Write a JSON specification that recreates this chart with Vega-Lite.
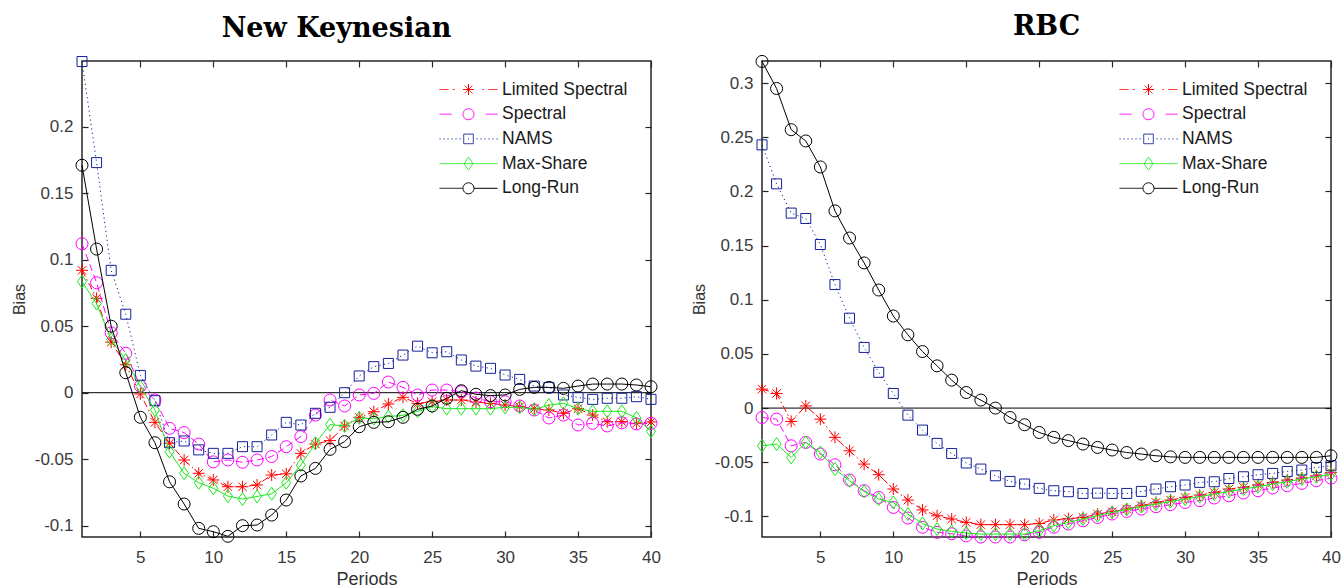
{
  "$schema": "https://vega.github.io/schema/vega-lite/v6.json",
  "padding": {"left": 10, "top": 12, "right": 0, "bottom": 0},
  "bounds": "flush",
  "spacing": 111,
  "params": [
    {"name": "symLS", "value": "M-1,0H-0.1M0.35,0H0.5M1.35,0H2.45M1.9,-0.55V0.55M1.52,-0.38L2.28,0.38M1.52,0.38L2.28,-0.38M3.3,0H3.45M3.9,0H4.8"},
    {"name": "symS", "value": "M-1,0H0.2M2.45,0A0.55,0.55 0 1,1 1.35,0A0.55,0.55 0 1,1 2.45,0M3.6,0H4.8"},
    {"name": "symN", "value": "M-1,0H-0.88M-0.6,0H-0.48M-0.2,0H-0.08M0.2,0H0.32M0.6,0H0.72M1,0H1.12M1.42,-0.48H2.38V0.48H1.42ZM1.85,0H1.95M2.7,0H2.82M3.1,0H3.22M3.5,0H3.62M3.9,0H4.02M4.3,0H4.42M4.7,0H4.82"},
    {"name": "symMS", "value": "M-1,0H4.8M1.9,-0.65L2.35,0L1.9,0.65L1.45,0Z"},
    {"name": "symLR", "value": "M-1,0H1.35M2.45,0H4.8M2.45,0A0.55,0.55 0 1,1 1.35,0A0.55,0.55 0 1,1 2.45,0"}
  ],
  "datasets": {
    "nk": [
      {"method": "Limited Spectral", "period": 1, "bias": 0.092},
      {"method": "Limited Spectral", "period": 2, "bias": 0.071},
      {"method": "Limited Spectral", "period": 3, "bias": 0.038},
      {"method": "Limited Spectral", "period": 4, "bias": 0.021},
      {"method": "Limited Spectral", "period": 5, "bias": -0.001},
      {"method": "Limited Spectral", "period": 6, "bias": -0.0223},
      {"method": "Limited Spectral", "period": 7, "bias": -0.038},
      {"method": "Limited Spectral", "period": 8, "bias": -0.0506},
      {"method": "Limited Spectral", "period": 9, "bias": -0.0606},
      {"method": "Limited Spectral", "period": 10, "bias": -0.0656},
      {"method": "Limited Spectral", "period": 11, "bias": -0.0707},
      {"method": "Limited Spectral", "period": 12, "bias": -0.0707},
      {"method": "Limited Spectral", "period": 13, "bias": -0.0694},
      {"method": "Limited Spectral", "period": 14, "bias": -0.0619},
      {"method": "Limited Spectral", "period": 15, "bias": -0.061},
      {"method": "Limited Spectral", "period": 16, "bias": -0.0456},
      {"method": "Limited Spectral", "period": 17, "bias": -0.0386},
      {"method": "Limited Spectral", "period": 18, "bias": -0.036},
      {"method": "Limited Spectral", "period": 19, "bias": -0.025},
      {"method": "Limited Spectral", "period": 20, "bias": -0.0185},
      {"method": "Limited Spectral", "period": 21, "bias": -0.0143},
      {"method": "Limited Spectral", "period": 22, "bias": -0.0085},
      {"method": "Limited Spectral", "period": 23, "bias": -0.0035},
      {"method": "Limited Spectral", "period": 24, "bias": -0.008},
      {"method": "Limited Spectral", "period": 25, "bias": -0.0068},
      {"method": "Limited Spectral", "period": 26, "bias": -0.0055},
      {"method": "Limited Spectral", "period": 27, "bias": -0.0055},
      {"method": "Limited Spectral", "period": 28, "bias": -0.007},
      {"method": "Limited Spectral", "period": 29, "bias": -0.008},
      {"method": "Limited Spectral", "period": 30, "bias": -0.0093},
      {"method": "Limited Spectral", "period": 31, "bias": -0.0105},
      {"method": "Limited Spectral", "period": 32, "bias": -0.012},
      {"method": "Limited Spectral", "period": 33, "bias": -0.013},
      {"method": "Limited Spectral", "period": 34, "bias": -0.0155},
      {"method": "Limited Spectral", "period": 35, "bias": -0.012},
      {"method": "Limited Spectral", "period": 36, "bias": -0.0168},
      {"method": "Limited Spectral", "period": 37, "bias": -0.0218},
      {"method": "Limited Spectral", "period": 38, "bias": -0.0218},
      {"method": "Limited Spectral", "period": 39, "bias": -0.023},
      {"method": "Limited Spectral", "period": 40, "bias": -0.022},
      {"method": "Spectral", "period": 1, "bias": 0.112},
      {"method": "Spectral", "period": 2, "bias": 0.0827},
      {"method": "Spectral", "period": 3, "bias": 0.045},
      {"method": "Spectral", "period": 4, "bias": 0.0296},
      {"method": "Spectral", "period": 5, "bias": 0.005},
      {"method": "Spectral", "period": 6, "bias": -0.0055},
      {"method": "Spectral", "period": 7, "bias": -0.0268},
      {"method": "Spectral", "period": 8, "bias": -0.03},
      {"method": "Spectral", "period": 9, "bias": -0.0386},
      {"method": "Spectral", "period": 10, "bias": -0.052},
      {"method": "Spectral", "period": 11, "bias": -0.0506},
      {"method": "Spectral", "period": 12, "bias": -0.0523},
      {"method": "Spectral", "period": 13, "bias": -0.0506},
      {"method": "Spectral", "period": 14, "bias": -0.048},
      {"method": "Spectral", "period": 15, "bias": -0.0406},
      {"method": "Spectral", "period": 16, "bias": -0.033},
      {"method": "Spectral", "period": 17, "bias": -0.0168},
      {"method": "Spectral", "period": 18, "bias": -0.0055},
      {"method": "Spectral", "period": 19, "bias": -0.01},
      {"method": "Spectral", "period": 20, "bias": -0.0017},
      {"method": "Spectral", "period": 21, "bias": -0.0005},
      {"method": "Spectral", "period": 22, "bias": 0.008},
      {"method": "Spectral", "period": 23, "bias": 0.004},
      {"method": "Spectral", "period": 24, "bias": -0.0017},
      {"method": "Spectral", "period": 25, "bias": 0.002},
      {"method": "Spectral", "period": 26, "bias": 0.002},
      {"method": "Spectral", "period": 27, "bias": 0.0008},
      {"method": "Spectral", "period": 28, "bias": -0.004},
      {"method": "Spectral", "period": 29, "bias": -0.0068},
      {"method": "Spectral", "period": 30, "bias": -0.0068},
      {"method": "Spectral", "period": 31, "bias": -0.01},
      {"method": "Spectral", "period": 32, "bias": -0.013},
      {"method": "Spectral", "period": 33, "bias": -0.019},
      {"method": "Spectral", "period": 34, "bias": -0.0168},
      {"method": "Spectral", "period": 35, "bias": -0.0243},
      {"method": "Spectral", "period": 36, "bias": -0.023},
      {"method": "Spectral", "period": 37, "bias": -0.025},
      {"method": "Spectral", "period": 38, "bias": -0.0226},
      {"method": "Spectral", "period": 39, "bias": -0.0235},
      {"method": "Spectral", "period": 40, "bias": -0.023},
      {"method": "NAMS", "period": 1, "bias": 0.249},
      {"method": "NAMS", "period": 2, "bias": 0.173},
      {"method": "NAMS", "period": 3, "bias": 0.092},
      {"method": "NAMS", "period": 4, "bias": 0.059},
      {"method": "NAMS", "period": 5, "bias": 0.013},
      {"method": "NAMS", "period": 6, "bias": -0.006},
      {"method": "NAMS", "period": 7, "bias": -0.0376},
      {"method": "NAMS", "period": 8, "bias": -0.0363},
      {"method": "NAMS", "period": 9, "bias": -0.043},
      {"method": "NAMS", "period": 10, "bias": -0.0456},
      {"method": "NAMS", "period": 11, "bias": -0.0456},
      {"method": "NAMS", "period": 12, "bias": -0.0406},
      {"method": "NAMS", "period": 13, "bias": -0.0406},
      {"method": "NAMS", "period": 14, "bias": -0.0318},
      {"method": "NAMS", "period": 15, "bias": -0.0223},
      {"method": "NAMS", "period": 16, "bias": -0.0243},
      {"method": "NAMS", "period": 17, "bias": -0.0155},
      {"method": "NAMS", "period": 18, "bias": -0.011},
      {"method": "NAMS", "period": 19, "bias": 0.0},
      {"method": "NAMS", "period": 20, "bias": 0.0126},
      {"method": "NAMS", "period": 21, "bias": 0.0196},
      {"method": "NAMS", "period": 22, "bias": 0.022},
      {"method": "NAMS", "period": 23, "bias": 0.0283},
      {"method": "NAMS", "period": 24, "bias": 0.035},
      {"method": "NAMS", "period": 25, "bias": 0.03},
      {"method": "NAMS", "period": 26, "bias": 0.0308},
      {"method": "NAMS", "period": 27, "bias": 0.0246},
      {"method": "NAMS", "period": 28, "bias": 0.02},
      {"method": "NAMS", "period": 29, "bias": 0.0183},
      {"method": "NAMS", "period": 30, "bias": 0.0133},
      {"method": "NAMS", "period": 31, "bias": 0.01},
      {"method": "NAMS", "period": 32, "bias": 0.005},
      {"method": "NAMS", "period": 33, "bias": 0.004},
      {"method": "NAMS", "period": 34, "bias": -0.0017},
      {"method": "NAMS", "period": 35, "bias": -0.0035},
      {"method": "NAMS", "period": 36, "bias": -0.005},
      {"method": "NAMS", "period": 37, "bias": -0.0042},
      {"method": "NAMS", "period": 38, "bias": -0.0042},
      {"method": "NAMS", "period": 39, "bias": -0.003},
      {"method": "NAMS", "period": 40, "bias": -0.005},
      {"method": "Max-Share", "period": 1, "bias": 0.0835},
      {"method": "Max-Share", "period": 2, "bias": 0.067},
      {"method": "Max-Share", "period": 3, "bias": 0.04},
      {"method": "Max-Share", "period": 4, "bias": 0.0246},
      {"method": "Max-Share", "period": 5, "bias": 0.0045},
      {"method": "Max-Share", "period": 6, "bias": -0.013},
      {"method": "Max-Share", "period": 7, "bias": -0.0443},
      {"method": "Max-Share", "period": 8, "bias": -0.0606},
      {"method": "Max-Share", "period": 9, "bias": -0.0677},
      {"method": "Max-Share", "period": 10, "bias": -0.0719},
      {"method": "Max-Share", "period": 11, "bias": -0.0777},
      {"method": "Max-Share", "period": 12, "bias": -0.08},
      {"method": "Max-Share", "period": 13, "bias": -0.078},
      {"method": "Max-Share", "period": 14, "bias": -0.076},
      {"method": "Max-Share", "period": 15, "bias": -0.0677},
      {"method": "Max-Share", "period": 16, "bias": -0.0544},
      {"method": "Max-Share", "period": 17, "bias": -0.038},
      {"method": "Max-Share", "period": 18, "bias": -0.024},
      {"method": "Max-Share", "period": 19, "bias": -0.025},
      {"method": "Max-Share", "period": 20, "bias": -0.019},
      {"method": "Max-Share", "period": 21, "bias": -0.0195},
      {"method": "Max-Share", "period": 22, "bias": -0.018},
      {"method": "Max-Share", "period": 23, "bias": -0.017},
      {"method": "Max-Share", "period": 24, "bias": -0.014},
      {"method": "Max-Share", "period": 25, "bias": -0.0105},
      {"method": "Max-Share", "period": 26, "bias": -0.012},
      {"method": "Max-Share", "period": 27, "bias": -0.012},
      {"method": "Max-Share", "period": 28, "bias": -0.012},
      {"method": "Max-Share", "period": 29, "bias": -0.012},
      {"method": "Max-Share", "period": 30, "bias": -0.011},
      {"method": "Max-Share", "period": 31, "bias": -0.011},
      {"method": "Max-Share", "period": 32, "bias": -0.0125},
      {"method": "Max-Share", "period": 33, "bias": -0.0093},
      {"method": "Max-Share", "period": 34, "bias": -0.008},
      {"method": "Max-Share", "period": 35, "bias": -0.012},
      {"method": "Max-Share", "period": 36, "bias": -0.014},
      {"method": "Max-Share", "period": 37, "bias": -0.014},
      {"method": "Max-Share", "period": 38, "bias": -0.014},
      {"method": "Max-Share", "period": 39, "bias": -0.019},
      {"method": "Max-Share", "period": 40, "bias": -0.029},
      {"method": "Long-Run", "period": 1, "bias": 0.171},
      {"method": "Long-Run", "period": 2, "bias": 0.108},
      {"method": "Long-Run", "period": 3, "bias": 0.05},
      {"method": "Long-Run", "period": 4, "bias": 0.015},
      {"method": "Long-Run", "period": 5, "bias": -0.0185},
      {"method": "Long-Run", "period": 6, "bias": -0.0376},
      {"method": "Long-Run", "period": 7, "bias": -0.067},
      {"method": "Long-Run", "period": 8, "bias": -0.0837},
      {"method": "Long-Run", "period": 9, "bias": -0.102},
      {"method": "Long-Run", "period": 10, "bias": -0.1045},
      {"method": "Long-Run", "period": 11, "bias": -0.108},
      {"method": "Long-Run", "period": 12, "bias": -0.1},
      {"method": "Long-Run", "period": 13, "bias": -0.0995},
      {"method": "Long-Run", "period": 14, "bias": -0.092},
      {"method": "Long-Run", "period": 15, "bias": -0.0807},
      {"method": "Long-Run", "period": 16, "bias": -0.0626},
      {"method": "Long-Run", "period": 17, "bias": -0.0569},
      {"method": "Long-Run", "period": 18, "bias": -0.0426},
      {"method": "Long-Run", "period": 19, "bias": -0.0368},
      {"method": "Long-Run", "period": 20, "bias": -0.0256},
      {"method": "Long-Run", "period": 21, "bias": -0.0223},
      {"method": "Long-Run", "period": 22, "bias": -0.0218},
      {"method": "Long-Run", "period": 23, "bias": -0.0185},
      {"method": "Long-Run", "period": 24, "bias": -0.0125},
      {"method": "Long-Run", "period": 25, "bias": -0.01},
      {"method": "Long-Run", "period": 26, "bias": -0.0042},
      {"method": "Long-Run", "period": 27, "bias": 0.0015},
      {"method": "Long-Run", "period": 28, "bias": -0.0012},
      {"method": "Long-Run", "period": 29, "bias": -0.0022},
      {"method": "Long-Run", "period": 30, "bias": -0.0017},
      {"method": "Long-Run", "period": 31, "bias": 0.0025},
      {"method": "Long-Run", "period": 32, "bias": 0.004},
      {"method": "Long-Run", "period": 33, "bias": 0.004},
      {"method": "Long-Run", "period": 34, "bias": 0.0033},
      {"method": "Long-Run", "period": 35, "bias": 0.005},
      {"method": "Long-Run", "period": 36, "bias": 0.0065},
      {"method": "Long-Run", "period": 37, "bias": 0.0065},
      {"method": "Long-Run", "period": 38, "bias": 0.0065},
      {"method": "Long-Run", "period": 39, "bias": 0.0058},
      {"method": "Long-Run", "period": 40, "bias": 0.0045}
    ],
    "rbc": [
      {"method": "Limited Spectral", "period": 1, "bias": 0.0175},
      {"method": "Limited Spectral", "period": 2, "bias": 0.0135},
      {"method": "Limited Spectral", "period": 3, "bias": -0.0123},
      {"method": "Limited Spectral", "period": 4, "bias": 0.002},
      {"method": "Limited Spectral", "period": 5, "bias": -0.0102},
      {"method": "Limited Spectral", "period": 6, "bias": -0.027},
      {"method": "Limited Spectral", "period": 7, "bias": -0.0394},
      {"method": "Limited Spectral", "period": 8, "bias": -0.0517},
      {"method": "Limited Spectral", "period": 9, "bias": -0.0615},
      {"method": "Limited Spectral", "period": 10, "bias": -0.0747},
      {"method": "Limited Spectral", "period": 11, "bias": -0.0849},
      {"method": "Limited Spectral", "period": 12, "bias": -0.094},
      {"method": "Limited Spectral", "period": 13, "bias": -0.0994},
      {"method": "Limited Spectral", "period": 14, "bias": -0.1024},
      {"method": "Limited Spectral", "period": 15, "bias": -0.1055},
      {"method": "Limited Spectral", "period": 16, "bias": -0.1076},
      {"method": "Limited Spectral", "period": 17, "bias": -0.1076},
      {"method": "Limited Spectral", "period": 18, "bias": -0.1076},
      {"method": "Limited Spectral", "period": 19, "bias": -0.1076},
      {"method": "Limited Spectral", "period": 20, "bias": -0.1065},
      {"method": "Limited Spectral", "period": 21, "bias": -0.1033},
      {"method": "Limited Spectral", "period": 22, "bias": -0.102},
      {"method": "Limited Spectral", "period": 23, "bias": -0.101},
      {"method": "Limited Spectral", "period": 24, "bias": -0.0978},
      {"method": "Limited Spectral", "period": 25, "bias": -0.0957},
      {"method": "Limited Spectral", "period": 26, "bias": -0.0932},
      {"method": "Limited Spectral", "period": 27, "bias": -0.0901},
      {"method": "Limited Spectral", "period": 28, "bias": -0.0871},
      {"method": "Limited Spectral", "period": 29, "bias": -0.0849},
      {"method": "Limited Spectral", "period": 30, "bias": -0.0825},
      {"method": "Limited Spectral", "period": 31, "bias": -0.0803},
      {"method": "Limited Spectral", "period": 32, "bias": -0.0779},
      {"method": "Limited Spectral", "period": 33, "bias": -0.0747},
      {"method": "Limited Spectral", "period": 34, "bias": -0.0732},
      {"method": "Limited Spectral", "period": 35, "bias": -0.0708},
      {"method": "Limited Spectral", "period": 36, "bias": -0.0686},
      {"method": "Limited Spectral", "period": 37, "bias": -0.0664},
      {"method": "Limited Spectral", "period": 38, "bias": -0.0646},
      {"method": "Limited Spectral", "period": 39, "bias": -0.0625},
      {"method": "Limited Spectral", "period": 40, "bias": -0.0594},
      {"method": "Spectral", "period": 1, "bias": -0.0087},
      {"method": "Spectral", "period": 2, "bias": -0.0102},
      {"method": "Spectral", "period": 3, "bias": -0.0348},
      {"method": "Spectral", "period": 4, "bias": -0.0317},
      {"method": "Spectral", "period": 5, "bias": -0.0424},
      {"method": "Spectral", "period": 6, "bias": -0.0523},
      {"method": "Spectral", "period": 7, "bias": -0.0664},
      {"method": "Spectral", "period": 8, "bias": -0.0763},
      {"method": "Spectral", "period": 9, "bias": -0.0825},
      {"method": "Spectral", "period": 10, "bias": -0.0917},
      {"method": "Spectral", "period": 11, "bias": -0.1015},
      {"method": "Spectral", "period": 12, "bias": -0.11},
      {"method": "Spectral", "period": 13, "bias": -0.1147},
      {"method": "Spectral", "period": 14, "bias": -0.116},
      {"method": "Spectral", "period": 15, "bias": -0.118},
      {"method": "Spectral", "period": 16, "bias": -0.119},
      {"method": "Spectral", "period": 17, "bias": -0.119},
      {"method": "Spectral", "period": 18, "bias": -0.119},
      {"method": "Spectral", "period": 19, "bias": -0.117},
      {"method": "Spectral", "period": 20, "bias": -0.1147},
      {"method": "Spectral", "period": 21, "bias": -0.11},
      {"method": "Spectral", "period": 22, "bias": -0.107},
      {"method": "Spectral", "period": 23, "bias": -0.104},
      {"method": "Spectral", "period": 24, "bias": -0.101},
      {"method": "Spectral", "period": 25, "bias": -0.0978},
      {"method": "Spectral", "period": 26, "bias": -0.0954},
      {"method": "Spectral", "period": 27, "bias": -0.0932},
      {"method": "Spectral", "period": 28, "bias": -0.091},
      {"method": "Spectral", "period": 29, "bias": -0.0892},
      {"method": "Spectral", "period": 30, "bias": -0.0871},
      {"method": "Spectral", "period": 31, "bias": -0.0855},
      {"method": "Spectral", "period": 32, "bias": -0.083},
      {"method": "Spectral", "period": 33, "bias": -0.081},
      {"method": "Spectral", "period": 34, "bias": -0.0784},
      {"method": "Spectral", "period": 35, "bias": -0.0763},
      {"method": "Spectral", "period": 36, "bias": -0.0738},
      {"method": "Spectral", "period": 37, "bias": -0.0717},
      {"method": "Spectral", "period": 38, "bias": -0.0695},
      {"method": "Spectral", "period": 39, "bias": -0.0671},
      {"method": "Spectral", "period": 40, "bias": -0.0646},
      {"method": "NAMS", "period": 1, "bias": 0.243},
      {"method": "NAMS", "period": 2, "bias": 0.207},
      {"method": "NAMS", "period": 3, "bias": 0.18},
      {"method": "NAMS", "period": 4, "bias": 0.175},
      {"method": "NAMS", "period": 5, "bias": 0.151},
      {"method": "NAMS", "period": 6, "bias": 0.114},
      {"method": "NAMS", "period": 7, "bias": 0.083},
      {"method": "NAMS", "period": 8, "bias": 0.056},
      {"method": "NAMS", "period": 9, "bias": 0.033},
      {"method": "NAMS", "period": 10, "bias": 0.0135},
      {"method": "NAMS", "period": 11, "bias": -0.0065},
      {"method": "NAMS", "period": 12, "bias": -0.0203},
      {"method": "NAMS", "period": 13, "bias": -0.0326},
      {"method": "NAMS", "period": 14, "bias": -0.0419},
      {"method": "NAMS", "period": 15, "bias": -0.0507},
      {"method": "NAMS", "period": 16, "bias": -0.0563},
      {"method": "NAMS", "period": 17, "bias": -0.0625},
      {"method": "NAMS", "period": 18, "bias": -0.0677},
      {"method": "NAMS", "period": 19, "bias": -0.0701},
      {"method": "NAMS", "period": 20, "bias": -0.0741},
      {"method": "NAMS", "period": 21, "bias": -0.0763},
      {"method": "NAMS", "period": 22, "bias": -0.0772},
      {"method": "NAMS", "period": 23, "bias": -0.0788},
      {"method": "NAMS", "period": 24, "bias": -0.0785},
      {"method": "NAMS", "period": 25, "bias": -0.0788},
      {"method": "NAMS", "period": 26, "bias": -0.0788},
      {"method": "NAMS", "period": 27, "bias": -0.0769},
      {"method": "NAMS", "period": 28, "bias": -0.0747},
      {"method": "NAMS", "period": 29, "bias": -0.0726},
      {"method": "NAMS", "period": 30, "bias": -0.071},
      {"method": "NAMS", "period": 31, "bias": -0.0686},
      {"method": "NAMS", "period": 32, "bias": -0.068},
      {"method": "NAMS", "period": 33, "bias": -0.065},
      {"method": "NAMS", "period": 34, "bias": -0.0634},
      {"method": "NAMS", "period": 35, "bias": -0.0615},
      {"method": "NAMS", "period": 36, "bias": -0.0603},
      {"method": "NAMS", "period": 37, "bias": -0.0585},
      {"method": "NAMS", "period": 38, "bias": -0.0572},
      {"method": "NAMS", "period": 39, "bias": -0.0548},
      {"method": "NAMS", "period": 40, "bias": -0.0532},
      {"method": "Max-Share", "period": 1, "bias": -0.0348},
      {"method": "Max-Share", "period": 2, "bias": -0.0332},
      {"method": "Max-Share", "period": 3, "bias": -0.0456},
      {"method": "Max-Share", "period": 4, "bias": -0.0317},
      {"method": "Max-Share", "period": 5, "bias": -0.041},
      {"method": "Max-Share", "period": 6, "bias": -0.0563},
      {"method": "Max-Share", "period": 7, "bias": -0.0671},
      {"method": "Max-Share", "period": 8, "bias": -0.077},
      {"method": "Max-Share", "period": 9, "bias": -0.084},
      {"method": "Max-Share", "period": 10, "bias": -0.0871},
      {"method": "Max-Share", "period": 11, "bias": -0.0978},
      {"method": "Max-Share", "period": 12, "bias": -0.1065},
      {"method": "Max-Share", "period": 13, "bias": -0.1117},
      {"method": "Max-Share", "period": 14, "bias": -0.1138},
      {"method": "Max-Share", "period": 15, "bias": -0.1153},
      {"method": "Max-Share", "period": 16, "bias": -0.1163},
      {"method": "Max-Share", "period": 17, "bias": -0.1163},
      {"method": "Max-Share", "period": 18, "bias": -0.1163},
      {"method": "Max-Share", "period": 19, "bias": -0.1163},
      {"method": "Max-Share", "period": 20, "bias": -0.1132},
      {"method": "Max-Share", "period": 21, "bias": -0.1086},
      {"method": "Max-Share", "period": 22, "bias": -0.1055},
      {"method": "Max-Share", "period": 23, "bias": -0.1024},
      {"method": "Max-Share", "period": 24, "bias": -0.0994},
      {"method": "Max-Share", "period": 25, "bias": -0.0963},
      {"method": "Max-Share", "period": 26, "bias": -0.0935},
      {"method": "Max-Share", "period": 27, "bias": -0.091},
      {"method": "Max-Share", "period": 28, "bias": -0.0886},
      {"method": "Max-Share", "period": 29, "bias": -0.0862},
      {"method": "Max-Share", "period": 30, "bias": -0.084},
      {"method": "Max-Share", "period": 31, "bias": -0.0818},
      {"method": "Max-Share", "period": 32, "bias": -0.0794},
      {"method": "Max-Share", "period": 33, "bias": -0.077},
      {"method": "Max-Share", "period": 34, "bias": -0.0747},
      {"method": "Max-Share", "period": 35, "bias": -0.0726},
      {"method": "Max-Share", "period": 36, "bias": -0.0701},
      {"method": "Max-Share", "period": 37, "bias": -0.068},
      {"method": "Max-Share", "period": 38, "bias": -0.0655},
      {"method": "Max-Share", "period": 39, "bias": -0.0634},
      {"method": "Max-Share", "period": 40, "bias": -0.0609},
      {"method": "Long-Run", "period": 1, "bias": 0.32},
      {"method": "Long-Run", "period": 2, "bias": 0.295},
      {"method": "Long-Run", "period": 3, "bias": 0.257},
      {"method": "Long-Run", "period": 4, "bias": 0.2466},
      {"method": "Long-Run", "period": 5, "bias": 0.2226},
      {"method": "Long-Run", "period": 6, "bias": 0.182},
      {"method": "Long-Run", "period": 7, "bias": 0.157},
      {"method": "Long-Run", "period": 8, "bias": 0.134},
      {"method": "Long-Run", "period": 9, "bias": 0.109},
      {"method": "Long-Run", "period": 10, "bias": 0.085},
      {"method": "Long-Run", "period": 11, "bias": 0.0676},
      {"method": "Long-Run", "period": 12, "bias": 0.0522},
      {"method": "Long-Run", "period": 13, "bias": 0.039},
      {"method": "Long-Run", "period": 14, "bias": 0.0258},
      {"method": "Long-Run", "period": 15, "bias": 0.0144},
      {"method": "Long-Run", "period": 16, "bias": 0.0074},
      {"method": "Long-Run", "period": 17, "bias": 0.0},
      {"method": "Long-Run", "period": 18, "bias": -0.0087},
      {"method": "Long-Run", "period": 19, "bias": -0.0154},
      {"method": "Long-Run", "period": 20, "bias": -0.0225},
      {"method": "Long-Run", "period": 21, "bias": -0.027},
      {"method": "Long-Run", "period": 22, "bias": -0.03},
      {"method": "Long-Run", "period": 23, "bias": -0.0332},
      {"method": "Long-Run", "period": 24, "bias": -0.0363},
      {"method": "Long-Run", "period": 25, "bias": -0.0387},
      {"method": "Long-Run", "period": 26, "bias": -0.041},
      {"method": "Long-Run", "period": 27, "bias": -0.0424},
      {"method": "Long-Run", "period": 28, "bias": -0.044},
      {"method": "Long-Run", "period": 29, "bias": -0.045},
      {"method": "Long-Run", "period": 30, "bias": -0.0455},
      {"method": "Long-Run", "period": 31, "bias": -0.0455},
      {"method": "Long-Run", "period": 32, "bias": -0.0455},
      {"method": "Long-Run", "period": 33, "bias": -0.0455},
      {"method": "Long-Run", "period": 34, "bias": -0.0455},
      {"method": "Long-Run", "period": 35, "bias": -0.0455},
      {"method": "Long-Run", "period": 36, "bias": -0.0455},
      {"method": "Long-Run", "period": 37, "bias": -0.0455},
      {"method": "Long-Run", "period": 38, "bias": -0.0455},
      {"method": "Long-Run", "period": 39, "bias": -0.0455},
      {"method": "Long-Run", "period": 40, "bias": -0.044}
    ]
  },
  "hconcat": [
    {
      "title": {"text": "New Keynesian", "dx": -30},
      "width": 569,
      "height": 476,
      "data": {"name": "nk"},
      "layer": [
        {
          "data": {"values": [{}]},
          "mark": {"type": "rule", "color": "#000000", "strokeWidth": 1},
          "encoding": {"y": {"datum": 0, "type": "quantitative", "scale": {"domain": [-0.1085, 0.2494]}, "axis": null}}
        },
        {
          "encoding": {
            "x": {"field": "period", "type": "quantitative", "scale": {"domain": [1, 40]},
              "axis": {"orient": "bottom", "values": [5, 10, 15, 20, 25, 30, 35, 40], "title": "Periods", "labelPadding": 18, "titlePadding": 5}},
            "y": {"field": "bias", "type": "quantitative", "scale": {"domain": [-0.1085, 0.2494]},
              "axis": {"orient": "left", "values": [-0.1, -0.05, 0, 0.05, 0.1, 0.15, 0.2], "title": "Bias", "labelPadding": 15, "titlePadding": 7, "titleFontSize": 16,
                "labelExpr": "replace(format(datum.value, '.2~f'), '\u2212', '-')"}},
            "color": {"field": "method", "type": "nominal",
              "scale": {"domain": ["Limited Spectral", "Spectral", "NAMS", "Max-Share", "Long-Run"], "range": ["#ff0000", "#ff00ff", "#14209a", "#1ee81e", "#000000"]},
              "legend": {"title": null, "orient": "none", "legendX": 357, "legendY": 18, "encoding": {"symbols": {
                "shape": {"value": {"expr": "datum.value === 'Limited Spectral' ? symLS : datum.value === 'Spectral' ? symS : datum.value === 'NAMS' ? symN : datum.value === 'Max-Share' ? symMS : symLR"}},
                "fill": {"value": "transparent"}, "strokeDash": {"value": [1, 0]}, "strokeWidth": {"value": 1}, "opacity": {"value": 1}}}}}
          },
          "layer": [
            {"transform": [{"filter": "datum.method === 'Limited Spectral'"}], "mark": {"type": "line", "strokeWidth": 1, "strokeDash": [7, 3, 1.5, 3]}},
            {"transform": [{"filter": "datum.method === 'Limited Spectral'"}], "mark": {"type": "point", "shape": "M-1,0H1M0,-1V1M-0.7,-0.7L0.7,0.7M-0.7,0.7L0.7,-0.7", "size": 144, "filled": false, "strokeWidth": 1, "opacity": 1}},
            {"transform": [{"filter": "datum.method === 'Spectral'"}], "mark": {"type": "line", "strokeWidth": 1, "strokeDash": [7, 4]}},
            {"transform": [{"filter": "datum.method === 'Spectral'"}], "mark": {"type": "point", "shape": "circle", "size": 144, "filled": false, "strokeWidth": 1, "opacity": 1}},
            {"transform": [{"filter": "datum.method === 'NAMS'"}], "mark": {"type": "line", "strokeWidth": 1, "strokeDash": [1.2, 3.3]}},
            {"transform": [{"filter": "datum.method === 'NAMS'"}], "mark": {"type": "point", "shape": "square", "size": 100, "filled": false, "strokeWidth": 1, "opacity": 1}},
            {"transform": [{"filter": "datum.method === 'Max-Share'"}], "mark": {"type": "line", "strokeWidth": 1}},
            {"transform": [{"filter": "datum.method === 'Max-Share'"}], "mark": {"type": "point", "shape": "M-0.7,0L0,-1L0.7,0L0,1Z", "size": 169, "filled": false, "strokeWidth": 1, "opacity": 1}},
            {"transform": [{"filter": "datum.method === 'Long-Run'"}], "mark": {"type": "line", "strokeWidth": 1}},
            {"transform": [{"filter": "datum.method === 'Long-Run'"}], "mark": {"type": "point", "shape": "circle", "size": 144, "filled": false, "strokeWidth": 1, "opacity": 1}}
          ]
        },
        {
          "mark": {"type": "point", "opacity": 0},
          "encoding": {
            "x": {"field": "period", "type": "quantitative", "scale": {"domain": [1, 40]},
              "axis": {"orient": "top", "values": [5, 10, 15, 20, 25, 30, 35, 40], "labels": false, "title": null}},
            "y": {"field": "bias", "type": "quantitative", "scale": {"domain": [-0.1085, 0.2494]},
              "axis": {"orient": "right", "values": [-0.1, -0.05, 0, 0.05, 0.1, 0.15, 0.2], "labels": false, "title": null}}
          }
        }
      ],
      "resolve": {"axis": {"x": "independent", "y": "independent"}}
    },
    {
      "title": {"text": "RBC"},
      "width": 569,
      "height": 476,
      "data": {"name": "rbc"},
      "layer": [
        {
          "data": {"values": [{}]},
          "mark": {"type": "rule", "color": "#000000", "strokeWidth": 1},
          "encoding": {"y": {"datum": 0, "type": "quantitative", "scale": {"domain": [-0.119, 0.3204]}, "axis": null}}
        },
        {
          "encoding": {
            "x": {"field": "period", "type": "quantitative", "scale": {"domain": [1, 40]},
              "axis": {"orient": "bottom", "values": [5, 10, 15, 20, 25, 30, 35, 40], "title": "Periods", "labelPadding": 18, "titlePadding": 5}},
            "y": {"field": "bias", "type": "quantitative", "scale": {"domain": [-0.119, 0.3204]},
              "axis": {"orient": "left", "values": [-0.1, -0.05, 0, 0.05, 0.1, 0.15, 0.2, 0.25, 0.3], "title": "Bias", "labelPadding": 15, "titlePadding": 7, "titleFontSize": 16,
                "labelExpr": "replace(format(datum.value, '.2~f'), '\u2212', '-')"}},
            "color": {"field": "method", "type": "nominal",
              "scale": {"domain": ["Limited Spectral", "Spectral", "NAMS", "Max-Share", "Long-Run"], "range": ["#ff0000", "#ff00ff", "#14209a", "#1ee81e", "#000000"]},
              "legend": {"title": null, "orient": "none", "legendX": 357, "legendY": 18, "encoding": {"symbols": {
                "shape": {"value": {"expr": "datum.value === 'Limited Spectral' ? symLS : datum.value === 'Spectral' ? symS : datum.value === 'NAMS' ? symN : datum.value === 'Max-Share' ? symMS : symLR"}},
                "fill": {"value": "transparent"}, "strokeDash": {"value": [1, 0]}, "strokeWidth": {"value": 1}, "opacity": {"value": 1}}}}}
          },
          "layer": [
            {"transform": [{"filter": "datum.method === 'Limited Spectral'"}], "mark": {"type": "line", "strokeWidth": 1, "strokeDash": [7, 3, 1.5, 3]}},
            {"transform": [{"filter": "datum.method === 'Limited Spectral'"}], "mark": {"type": "point", "shape": "M-1,0H1M0,-1V1M-0.7,-0.7L0.7,0.7M-0.7,0.7L0.7,-0.7", "size": 144, "filled": false, "strokeWidth": 1, "opacity": 1}},
            {"transform": [{"filter": "datum.method === 'Spectral'"}], "mark": {"type": "line", "strokeWidth": 1, "strokeDash": [7, 4]}},
            {"transform": [{"filter": "datum.method === 'Spectral'"}], "mark": {"type": "point", "shape": "circle", "size": 144, "filled": false, "strokeWidth": 1, "opacity": 1}},
            {"transform": [{"filter": "datum.method === 'NAMS'"}], "mark": {"type": "line", "strokeWidth": 1, "strokeDash": [1.2, 3.3]}},
            {"transform": [{"filter": "datum.method === 'NAMS'"}], "mark": {"type": "point", "shape": "square", "size": 100, "filled": false, "strokeWidth": 1, "opacity": 1}},
            {"transform": [{"filter": "datum.method === 'Max-Share'"}], "mark": {"type": "line", "strokeWidth": 1}},
            {"transform": [{"filter": "datum.method === 'Max-Share'"}], "mark": {"type": "point", "shape": "M-0.7,0L0,-1L0.7,0L0,1Z", "size": 169, "filled": false, "strokeWidth": 1, "opacity": 1}},
            {"transform": [{"filter": "datum.method === 'Long-Run'"}], "mark": {"type": "line", "strokeWidth": 1}},
            {"transform": [{"filter": "datum.method === 'Long-Run'"}], "mark": {"type": "point", "shape": "circle", "size": 144, "filled": false, "strokeWidth": 1, "opacity": 1}}
          ]
        },
        {
          "mark": {"type": "point", "opacity": 0},
          "encoding": {
            "x": {"field": "period", "type": "quantitative", "scale": {"domain": [1, 40]},
              "axis": {"orient": "top", "values": [5, 10, 15, 20, 25, 30, 35, 40], "labels": false, "title": null}},
            "y": {"field": "bias", "type": "quantitative", "scale": {"domain": [-0.119, 0.3204]},
              "axis": {"orient": "right", "values": [-0.1, -0.05, 0, 0.05, 0.1, 0.15, 0.2, 0.25, 0.3], "labels": false, "title": null}}
          }
        }
      ],
      "resolve": {"axis": {"x": "independent", "y": "independent"}}
    }
  ],
  "resolve": {"scale": {"color": "independent"}},
  "config": {
    "font": "Liberation Sans",
    "view": {"stroke": "#262626", "strokeWidth": 1.5},
    "axis": {
      "domain": false, "grid": false, "tickSize": -6, "tickColor": "#262626", "tickWidth": 1.2,
      "labelFont": "Liberation Sans", "labelFontSize": 17, "labelColor": "#3a3a3a", "labelFlush": false, "labelOverlap": false,
      "titleFont": "Liberation Sans", "titleFontSize": 18, "titleFontWeight": "normal", "titleColor": "#333333"
    },
    "legend": {
      "padding": 0,
      "labelFont": "Liberation Sans", "labelFontSize": 17.5, "labelColor": "#1a1a1a", "labelLimit": 0,
      "symbolSize": 400, "labelOffset": 42, "rowPadding": 5.7, "symbolStrokeWidth": 1
    },
    "title": {"font": "DejaVu Serif", "fontSize": 27, "fontWeight": "bold", "color": "#000000", "offset": 12, "anchor": "middle"}
  }
}
